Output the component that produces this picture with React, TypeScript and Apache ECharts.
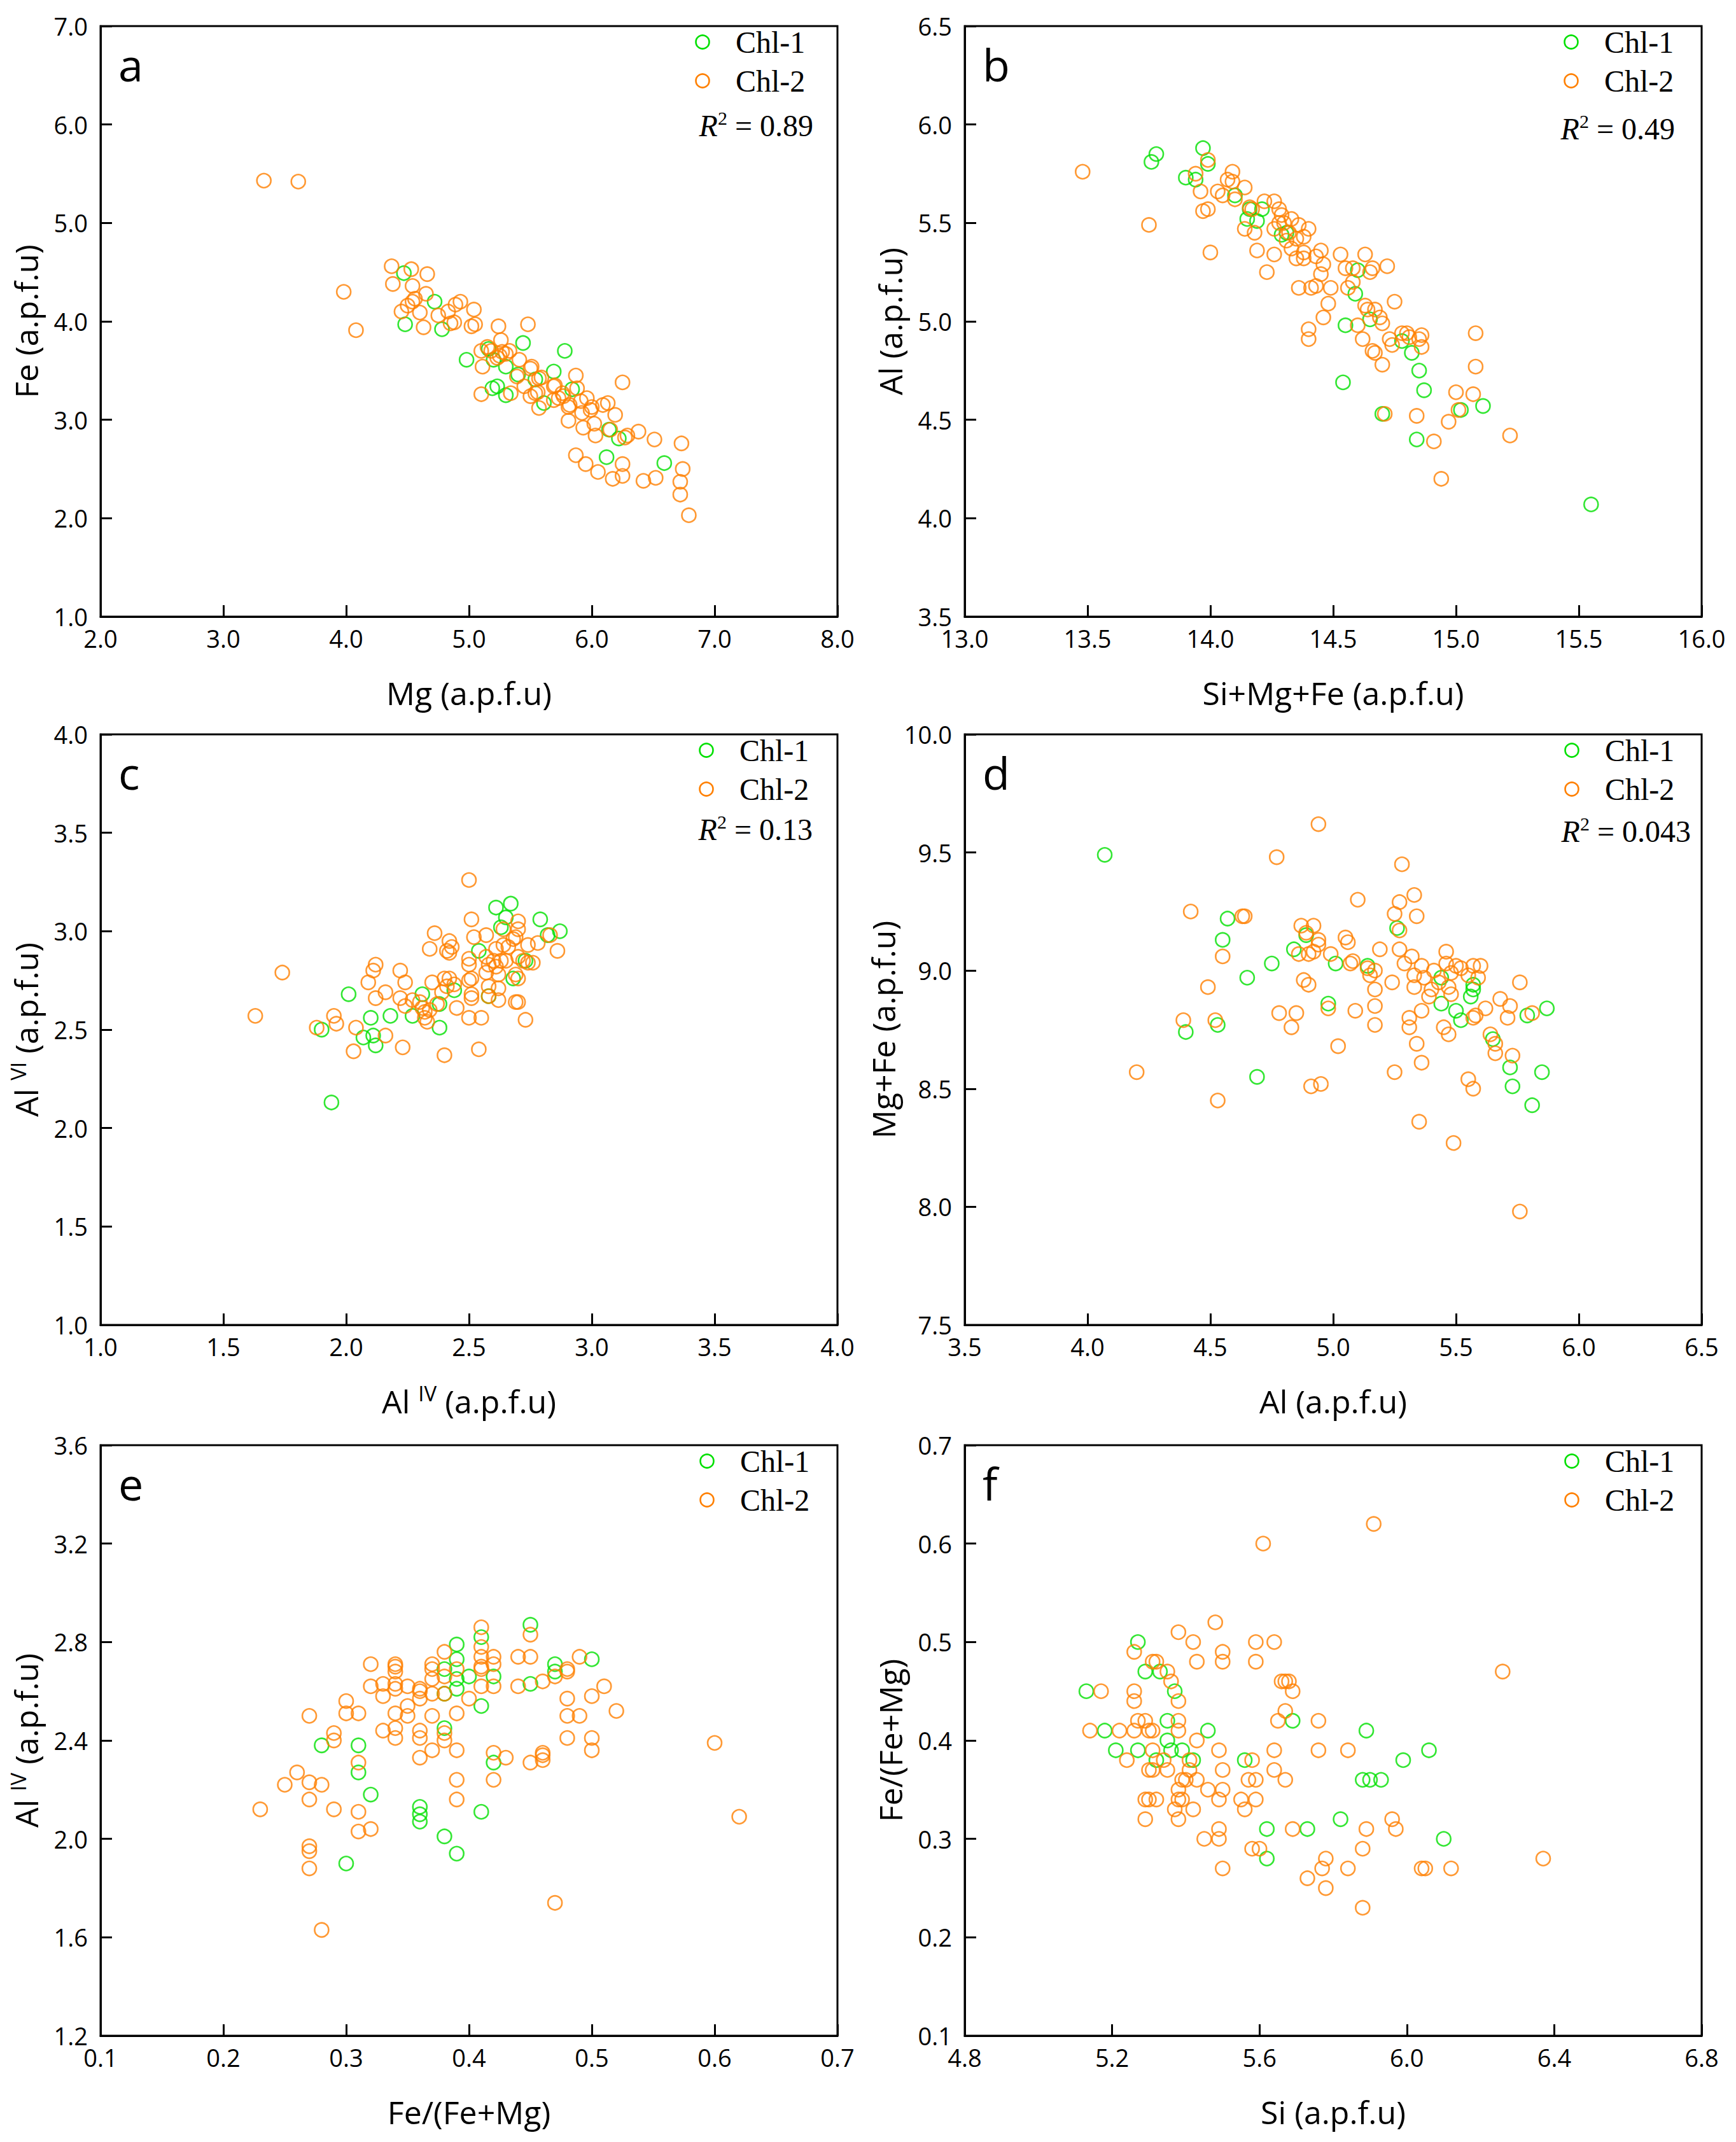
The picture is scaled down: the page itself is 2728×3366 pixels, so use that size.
import React, { useEffect, useRef } from "react";
import * as echarts from "echarts";

const GREEN = "#00e000";
const ORANGE = "#ff8000";
const SERIES_NAMES = ["Chl-1", "Chl-2"];
const PANEL_LETTERS = ["a", "b", "c", "d", "e", "f"];
const R2_TEXTS = ["0.89", "0.49", "0.13", "0.043", "", ""];

// axis ranges [min, max, interval]
const X_RANGES = [[2, 8, 1], [13, 16, 0.5], [1, 4, 0.5], [3.5, 6.5, 0.5], [0.1, 0.7, 0.1], [4.8, 6.8, 0.4]];
const Y_RANGES = [[1, 7, 1], [3.5, 6.5, 0.5], [1, 4, 0.5], [7.5, 10, 0.5], [1.2, 3.6, 0.4], [0.1, 0.7, 0.1]];
const X_NAMES = ["Mg (a.p.f.u)", "Si+Mg+Fe (a.p.f.u)", "Al {s|IV} (a.p.f.u)", "Al (a.p.f.u)", "Fe/(Fe+Mg)", "Si (a.p.f.u)"];
const Y_NAMES = ["Fe (a.p.f.u)", "Al (a.p.f.u)", "Al {s|VI} (a.p.f.u)", "Mg+Fe (a.p.f.u)", "Al {s|IV} (a.p.f.u)", "Fe/(Fe+Mg)"];

// ---- panel a: Mg vs Fe
const aChl1 = [[4.47,4.49],[4.48,3.97],[4.72,4.20],[4.78,3.92],[4.98,3.61],[5.16,3.72],[5.20,3.61],[5.19,3.32],[5.23,3.34],[5.30,3.25],[5.30,3.54],[5.44,3.78],[5.40,3.46],[5.54,3.41],[5.61,3.17],[5.69,3.49],[5.78,3.70],[5.84,3.31],[6.14,2.90],[6.22,2.81],[6.12,2.62],[6.59,2.56]];
const aChl2 = [[3.33,5.43],[3.61,5.42],[3.98,4.30],[4.08,3.91],[4.37,4.56],[4.38,4.38],[4.53,4.53],[4.66,4.48],[4.54,4.36],[4.45,4.10],[4.50,4.16],[4.54,4.20],[4.56,4.23],[4.60,4.09],[4.63,3.94],[4.65,4.28],[4.75,4.06],[4.83,4.10],[4.85,3.98],[4.88,3.99],[4.89,4.17],[4.93,4.20],[5.04,4.12],[5.02,3.95],[5.05,3.97],[5.10,3.70],[5.11,3.54],[5.10,3.26],[5.15,3.74],[5.18,3.70],[5.24,3.95],[5.26,3.81],[5.27,3.69],[5.30,3.67],[5.33,3.70],[5.23,3.63],[5.25,3.65],[5.34,3.27],[5.41,3.61],[5.48,3.97],[5.39,3.44],[5.45,3.34],[5.50,3.52],[5.51,3.54],[5.50,3.24],[5.54,3.27],[5.57,3.12],[5.57,3.42],[5.59,3.43],[5.56,3.28],[5.69,3.34],[5.70,3.35],[5.69,3.20],[5.73,3.22],[5.77,3.24],[5.76,3.27],[5.81,3.13],[5.82,3.15],[5.81,2.99],[5.87,3.45],[5.88,3.32],[5.91,3.19],[5.92,3.07],[5.93,2.92],[5.96,3.22],[5.99,3.10],[6.00,3.13],[6.02,2.96],[6.03,2.84],[6.09,3.15],[6.13,3.17],[6.19,3.05],[6.15,2.90],[6.25,3.38],[6.27,2.82],[6.29,2.84],[6.38,2.88],[6.51,2.80],[5.87,2.64],[5.95,2.55],[6.05,2.47],[6.17,2.40],[6.25,2.55],[6.25,2.43],[6.42,2.38],[6.52,2.41],[6.73,2.76],[6.74,2.50],[6.72,2.37],[6.72,2.24],[6.79,2.03]];

// ---- panel b: Si+Mg+Fe vs Al
const bChl1 = [[13.76,5.81],[13.78,5.85],[13.90,5.73],[13.94,5.72],[13.97,5.88],[13.99,5.80],[14.10,5.64],[14.15,5.52],[14.16,5.57],[14.19,5.51],[14.21,5.57],[14.29,5.44],[14.31,5.45],[14.55,4.98],[14.54,4.69],[14.59,5.14],[14.60,5.26],[14.65,5.01],[14.70,4.53],[14.78,4.90],[14.82,4.84],[14.85,4.75],[14.84,4.40],[14.87,4.65],[15.02,4.55],[15.11,4.57],[15.55,4.07]];
const bChl2 = [[13.48,5.76],[13.75,5.49],[13.94,5.75],[13.96,5.66],[13.97,5.56],[13.99,5.57],[13.99,5.82],[14.00,5.35],[14.03,5.66],[14.05,5.64],[14.07,5.72],[14.09,5.76],[14.09,5.71],[14.10,5.62],[14.14,5.68],[14.14,5.47],[14.16,5.58],[14.17,5.57],[14.18,5.45],[14.19,5.36],[14.22,5.61],[14.23,5.25],[14.26,5.61],[14.26,5.47],[14.26,5.34],[14.28,5.57],[14.29,5.54],[14.28,5.50],[14.30,5.50],[14.31,5.41],[14.32,5.45],[14.33,5.52],[14.33,5.37],[14.35,5.32],[14.35,5.42],[14.36,5.49],[14.36,5.17],[14.38,5.43],[14.38,5.35],[14.38,5.32],[14.40,5.47],[14.40,4.96],[14.40,4.91],[14.41,5.17],[14.43,5.18],[14.43,5.33],[14.45,5.36],[14.45,5.24],[14.46,5.29],[14.46,5.02],[14.48,5.09],[14.49,5.17],[14.53,5.34],[14.55,5.27],[14.56,5.17],[14.58,5.20],[14.58,5.27],[14.60,4.98],[14.62,4.91],[14.63,5.34],[14.63,5.08],[14.64,5.06],[14.65,5.25],[14.66,5.27],[14.66,4.85],[14.67,4.84],[14.67,5.06],[14.69,5.02],[14.70,4.99],[14.70,4.78],[14.72,5.28],[14.73,4.91],[14.74,4.88],[14.75,5.10],[14.78,4.94],[14.80,4.94],[14.81,4.92],[14.85,4.91],[14.86,4.93],[14.86,4.87],[14.84,4.52],[14.71,4.53],[14.91,4.39],[14.94,4.20],[14.97,4.49],[15.00,4.64],[15.01,4.55],[15.07,4.63],[15.08,4.94],[15.08,4.77],[15.22,4.42]];

// ---- panel c: Al IV vs Al VI
const cChl1 = [[1.90,2.50],[1.94,2.13],[2.01,2.68],[2.07,2.46],[2.10,2.56],[2.11,2.47],[2.12,2.42],[2.18,2.57],[2.27,2.57],[2.31,2.68],[2.38,2.63],[2.38,2.51],[2.44,2.70],[2.54,2.90],[2.58,2.67],[2.61,3.12],[2.63,3.02],[2.65,3.07],[2.67,3.14],[2.68,2.76],[2.73,2.85],[2.79,3.06],[2.82,2.98],[2.87,3.00]];
const cChl2 = [[1.63,2.57],[1.74,2.79],[1.88,2.51],[1.95,2.57],[1.96,2.53],[2.03,2.39],[2.04,2.51],[2.09,2.74],[2.11,2.80],[2.12,2.83],[2.12,2.66],[2.16,2.69],[2.16,2.47],[2.22,2.80],[2.22,2.66],[2.23,2.41],[2.24,2.74],[2.24,2.62],[2.27,2.65],[2.30,2.64],[2.31,2.61],[2.32,2.59],[2.32,2.56],[2.33,2.54],[2.34,2.60],[2.34,2.91],[2.35,2.74],[2.36,2.99],[2.37,2.63],[2.39,2.69],[2.40,2.37],[2.40,2.76],[2.41,2.90],[2.42,2.95],[2.42,2.89],[2.43,2.92],[2.42,2.76],[2.41,2.72],[2.44,2.73],[2.45,2.61],[2.50,3.26],[2.51,3.06],[2.52,2.97],[2.50,2.86],[2.50,2.83],[2.51,2.76],[2.50,2.75],[2.51,2.68],[2.51,2.66],[2.50,2.56],[2.55,2.56],[2.54,2.40],[2.57,2.98],[2.57,2.87],[2.58,2.83],[2.57,2.79],[2.58,2.72],[2.58,2.67],[2.60,2.85],[2.61,2.82],[2.61,2.91],[2.62,2.78],[2.62,2.71],[2.62,2.65],[2.63,2.85],[2.64,2.93],[2.64,3.01],[2.65,2.85],[2.66,2.92],[2.68,2.96],[2.69,2.78],[2.69,2.97],[2.70,3.05],[2.70,3.01],[2.70,2.87],[2.70,2.76],[2.69,2.64],[2.70,2.64],[2.73,2.55],[2.74,2.93],[2.74,2.84],[2.76,2.84],[2.78,2.94],[2.83,2.98],[2.86,2.90],[2.72,2.85]];

// ---- panel d: Al vs Mg+Fe
const dChl1 = [[4.07,9.49],[4.40,8.74],[4.53,8.77],[4.55,9.13],[4.57,9.22],[4.65,8.97],[4.69,8.55],[4.75,9.03],[4.84,9.09],[4.89,9.15],[4.98,8.86],[5.01,9.03],[5.14,9.02],[5.26,9.18],[5.44,8.86],[5.44,8.97],[5.50,8.83],[5.52,8.79],[5.56,8.89],[5.57,8.94],[5.57,8.92],[5.65,8.71],[5.72,8.59],[5.73,8.51],[5.79,8.81],[5.81,8.43],[5.85,8.57],[5.87,8.84]];
const dChl2 = [[4.20,8.57],[4.39,8.79],[4.42,9.25],[4.49,8.93],[4.52,8.79],[4.53,8.45],[4.55,9.06],[4.63,9.23],[4.64,9.23],[4.77,9.48],[4.78,8.82],[4.83,8.76],[4.85,8.82],[4.86,9.07],[4.87,9.19],[4.88,8.96],[4.89,9.16],[4.90,9.07],[4.90,8.94],[4.91,8.51],[4.92,9.19],[4.92,9.08],[4.94,9.62],[4.94,9.13],[4.94,9.11],[4.95,8.52],[4.98,8.84],[4.99,9.07],[5.02,8.68],[5.05,9.14],[5.06,9.12],[5.07,9.03],[5.08,9.04],[5.09,8.83],[5.10,9.30],[5.14,9.01],[5.15,8.98],[5.17,9.00],[5.17,8.85],[5.17,8.77],[5.17,8.92],[5.19,9.09],[5.24,8.95],[5.25,9.24],[5.25,8.57],[5.27,9.29],[5.27,9.17],[5.27,9.09],[5.28,9.45],[5.29,9.03],[5.31,8.80],[5.31,8.76],[5.32,9.06],[5.33,8.98],[5.33,8.93],[5.33,9.32],[5.34,9.23],[5.34,8.69],[5.35,8.36],[5.36,8.61],[5.36,8.83],[5.36,9.02],[5.37,8.97],[5.39,8.89],[5.40,8.92],[5.41,9.00],[5.43,8.95],[5.45,8.76],[5.46,9.08],[5.46,9.03],[5.47,8.93],[5.47,8.73],[5.48,8.99],[5.48,8.90],[5.49,8.27],[5.50,9.02],[5.52,9.01],[5.55,8.54],[5.55,8.98],[5.57,9.02],[5.57,8.50],[5.57,8.80],[5.58,8.81],[5.59,8.97],[5.60,9.02],[5.62,8.84],[5.64,8.73],[5.66,8.69],[5.66,8.65],[5.68,8.88],[5.71,8.80],[5.72,8.85],[5.73,8.64],[5.76,8.95],[5.76,7.98],[5.81,8.82]];

// ---- panel e: Fe/(Fe+Mg) vs Al IV
const eChl1 = [[0.28,2.38],[0.30,1.90],[0.31,2.38],[0.31,2.27],[0.32,2.18],[0.36,2.13],[0.36,2.10],[0.36,2.07],[0.38,2.69],[0.38,2.59],[0.38,2.45],[0.38,2.01],[0.39,2.79],[0.39,2.73],[0.39,2.65],[0.39,2.61],[0.39,1.94],[0.40,2.66],[0.41,2.82],[0.41,2.54],[0.41,2.11],[0.42,2.66],[0.42,2.31],[0.45,2.87],[0.45,2.63],[0.47,2.71],[0.47,2.68],[0.50,2.73]];
const eChl2 = [[0.23,2.12],[0.25,2.22],[0.26,2.27],[0.27,2.50],[0.27,2.23],[0.27,2.16],[0.27,1.97],[0.27,1.95],[0.27,1.88],[0.28,2.22],[0.28,1.63],[0.29,2.43],[0.29,2.40],[0.29,2.12],[0.30,2.56],[0.30,2.51],[0.31,2.51],[0.31,2.31],[0.31,2.11],[0.31,2.03],[0.32,2.71],[0.32,2.62],[0.32,2.04],[0.33,2.63],[0.33,2.58],[0.33,2.44],[0.34,2.71],[0.34,2.70],[0.34,2.68],[0.34,2.63],[0.34,2.61],[0.34,2.51],[0.34,2.45],[0.34,2.41],[0.35,2.62],[0.35,2.54],[0.35,2.50],[0.36,2.61],[0.36,2.60],[0.36,2.57],[0.36,2.44],[0.36,2.41],[0.36,2.33],[0.37,2.71],[0.37,2.69],[0.37,2.65],[0.37,2.59],[0.37,2.50],[0.37,2.36],[0.38,2.76],[0.38,2.66],[0.38,2.59],[0.38,2.43],[0.38,2.40],[0.39,2.69],[0.39,2.51],[0.39,2.36],[0.39,2.24],[0.39,2.16],[0.40,2.57],[0.41,2.86],[0.41,2.78],[0.41,2.74],[0.41,2.70],[0.41,2.69],[0.41,2.62],[0.42,2.74],[0.42,2.71],[0.42,2.62],[0.42,2.35],[0.42,2.24],[0.43,2.33],[0.44,2.74],[0.44,2.62],[0.45,2.83],[0.45,2.74],[0.45,2.31],[0.46,2.64],[0.46,2.35],[0.46,2.34],[0.46,2.32],[0.47,2.66],[0.47,1.74],[0.48,2.69],[0.48,2.68],[0.48,2.57],[0.48,2.50],[0.48,2.41],[0.49,2.74],[0.49,2.50],[0.50,2.58],[0.50,2.41],[0.50,2.36],[0.51,2.62],[0.52,2.52],[0.60,2.39],[0.62,2.09]];

// ---- panel f: Si vs Fe/(Fe+Mg)
const fChl1 = [[5.13,0.45],[5.18,0.41],[5.21,0.39],[5.27,0.50],[5.27,0.39],[5.29,0.47],[5.32,0.38],[5.33,0.47],[5.35,0.40],[5.35,0.42],[5.36,0.39],[5.37,0.45],[5.39,0.39],[5.42,0.38],[5.46,0.41],[5.56,0.38],[5.62,0.31],[5.62,0.28],[5.69,0.42],[5.73,0.31],[5.82,0.32],[5.88,0.36],[5.89,0.41],[5.90,0.36],[5.93,0.36],[5.99,0.38],[6.06,0.39],[6.10,0.30]];
const fChl2 = [[5.14,0.41],[5.17,0.45],[5.22,0.41],[5.24,0.38],[5.26,0.49],[5.26,0.45],[5.26,0.44],[5.26,0.41],[5.27,0.42],[5.29,0.42],[5.29,0.32],[5.29,0.34],[5.30,0.37],[5.30,0.34],[5.30,0.41],[5.31,0.48],[5.31,0.39],[5.31,0.37],[5.31,0.41],[5.32,0.34],[5.32,0.48],[5.34,0.38],[5.35,0.47],[5.35,0.37],[5.36,0.46],[5.37,0.33],[5.38,0.51],[5.38,0.44],[5.38,0.42],[5.38,0.41],[5.38,0.35],[5.38,0.34],[5.38,0.32],[5.39,0.34],[5.39,0.36],[5.40,0.36],[5.41,0.37],[5.41,0.38],[5.42,0.50],[5.42,0.33],[5.43,0.48],[5.43,0.40],[5.43,0.36],[5.45,0.30],[5.46,0.35],[5.48,0.52],[5.49,0.39],[5.49,0.34],[5.49,0.31],[5.49,0.30],[5.50,0.49],[5.50,0.48],[5.50,0.37],[5.50,0.35],[5.50,0.27],[5.55,0.34],[5.56,0.33],[5.57,0.36],[5.58,0.29],[5.58,0.38],[5.59,0.50],[5.59,0.48],[5.59,0.36],[5.59,0.34],[5.60,0.29],[5.61,0.60],[5.64,0.50],[5.64,0.39],[5.64,0.37],[5.65,0.42],[5.66,0.46],[5.67,0.46],[5.68,0.46],[5.67,0.43],[5.67,0.36],[5.69,0.45],[5.69,0.31],[5.73,0.26],[5.76,0.42],[5.76,0.39],[5.77,0.27],[5.78,0.28],[5.78,0.25],[5.84,0.39],[5.84,0.27],[5.88,0.29],[5.88,0.23],[5.89,0.31],[5.91,0.62],[5.96,0.32],[5.97,0.31],[6.04,0.27],[6.05,0.27],[6.12,0.27],[6.26,0.47],[6.37,0.28]];

const CHL1 = [aChl1, bChl1, cChl1, dChl1, eChl1, fChl1];
const CHL2 = [aChl2, bChl2, cChl2, dChl2, eChl2, fChl2];

// layout
const COL_LEFT = [158, 1516];
const ROW_TOP = [41, 1154, 2271];
const GW = 1158;
const GH = 928;
const LEG_DX = [946, 953, 952, 954, 953, 954];
const R2_RIGHT = [1120, 1116, 1119, 1141];
const R2_DY = [156, 161, 149, 152];

const SANS = "Open Sans";
const SERIF = "Liberation Serif";

function fmt(v: number) {
  return (Math.round(v * 100) / 100).toFixed(1);
}

function buildOption() {
  const grid: any[] = [];
  const xAxis: any[] = [];
  const yAxis: any[] = [];
  const series: any[] = [];
  const graphic: any[] = [];
  const supRich = {
    s: { fontSize: 33, fontFamily: SANS, lineHeight: 30, verticalAlign: "top", padding: [0, 0, 6, 0] },
  };
  const cols = [GREEN, ORANGE];
  for (let i = 0; i < 6; i++) {
    const left = COL_LEFT[i % 2];
    const top = ROW_TOP[Math.floor(i / 2)];
    grid.push({ left, top, width: GW, height: GH, show: true, borderColor: "#000", borderWidth: 3, backgroundColor: "transparent", containLabel: false });
    const [xmin, xmax, xint] = X_RANGES[i];
    const [ymin, ymax, yint] = Y_RANGES[i];
    xAxis.push({
      type: "value", gridIndex: i, min: xmin, max: xmax, interval: xint,
      name: X_NAMES[i], nameLocation: "middle", nameGap: 91,
      nameTextStyle: { fontFamily: SANS, fontSize: 50, color: "#000", lineHeight: 58, rich: supRich },
      axisLine: { show: true, onZero: false, lineStyle: { color: "#000", width: 3 } },
      axisTick: { show: true, inside: true, length: 18, lineStyle: { color: "#000", width: 3 } },
      axisLabel: { fontFamily: SANS, fontSize: 38, color: "#000", margin: 18, lineHeight: 32, formatter: fmt },
      splitLine: { show: false },
    });
    yAxis.push({
      type: "value", gridIndex: i, min: ymin, max: ymax, interval: yint,
      name: Y_NAMES[i], nameLocation: "middle", nameGap: 88, nameRotate: 90,
      nameTextStyle: { fontFamily: SANS, fontSize: 50, color: "#000", lineHeight: 58, rich: supRich },
      axisLine: { show: true, onZero: false, lineStyle: { color: "#000", width: 3 } },
      axisTick: { show: true, inside: true, length: 18, lineStyle: { color: "#000", width: 3 } },
      axisLabel: { fontFamily: SANS, fontSize: 38, color: "#000", margin: 20, lineHeight: 28, formatter: fmt },
      splitLine: { show: false },
    });
    [CHL1[i], CHL2[i]].forEach((data, k) => {
      series.push({
        type: "scatter", name: SERIES_NAMES[k], xAxisIndex: i, yAxisIndex: i, data,
        symbol: "circle", symbolSize: 22,
        itemStyle: { color: "rgba(0,0,0,0)", borderColor: cols[k], borderWidth: 2.6 },
        emphasis: { disabled: true },
      });
    });
    // legend (symbol + label) per panel
    const cx = left + LEG_DX[i];
    SERIES_NAMES.forEach((n, k) => {
      const cy = top + 25 + k * 61;
      graphic.push({
        type: "circle", shape: { cx, cy, r: 10.5 },
        style: { fill: "none", stroke: cols[k], lineWidth: 2.6 },
      });
      graphic.push({
        type: "text", x: cx + 52, y: cy,
        style: { text: n, fontFamily: SERIF, fontSize: 48, fill: "#000", align: "left", verticalAlign: "middle" },
      });
    });
    graphic.push({
      type: "text", x: left + 28, y: top + 87 - 27,
      style: { text: PANEL_LETTERS[i], fontFamily: SANS, fontSize: 70, fill: "#000", align: "left", verticalAlign: "middle" },
    });
    if (R2_TEXTS[i]) {
      graphic.push({
        type: "text", x: left + R2_RIGHT[i], y: top + R2_DY[i],
        style: {
          text: "{i|R}{s|2}{n| = " + R2_TEXTS[i] + "}", align: "right", verticalAlign: "middle", fill: "#000",
          rich: {
            i: { fontFamily: SERIF, fontStyle: "italic", fontSize: 48, lineHeight: 54, fill: "#000" },
            s: { fontFamily: SERIF, fontSize: 30, lineHeight: 30, verticalAlign: "top", fill: "#000" },
            n: { fontFamily: SERIF, fontSize: 48, lineHeight: 54, fill: "#000" },
          },
        },
      });
    }
  }
  return { animation: false, backgroundColor: "#fff", grid, xAxis, yAxis, series, graphic };
}

export default function App() {
  const ref = useRef<HTMLDivElement>(null);
  useEffect(() => {
    if (!ref.current) return;
    const chart = echarts.init(ref.current, undefined, { renderer: "svg" });
    chart.setOption(buildOption() as any);
    return () => chart.dispose();
  }, []);
  return <div ref={ref} style={{ position: "absolute", left: 0, top: 0, width: 2728, height: 3366, background: "#fff" }} />;
}
